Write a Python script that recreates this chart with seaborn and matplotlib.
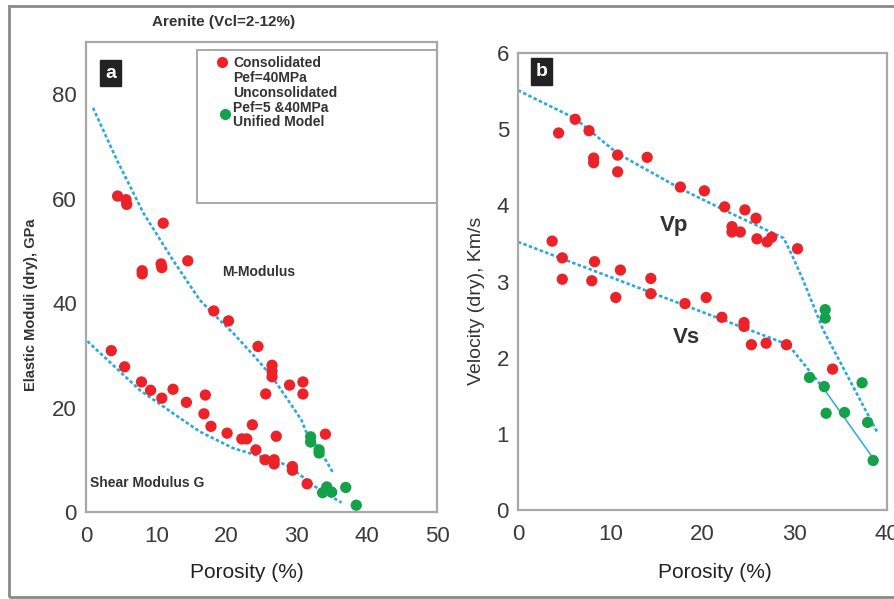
import numpy as np
import pandas as pd
import seaborn as sns
import matplotlib
matplotlib.use("Agg")
import matplotlib.pyplot as plt
from matplotlib.patches import Rectangle
from matplotlib.lines import Line2D
from matplotlib.ticker import MultipleLocator

# ---------------- data: panel a ----------------
a_M_por = [4.5, 5.7, 5.8, 11.0, 8.0, 8.0, 10.7, 10.8, 14.5, 18.2, 20.3, 24.5, 26.5, 26.5, 26.5,
           29.0, 30.9, 30.9, 25.6, 34.1]
a_M_val = [60.5, 59.8, 58.9, 55.3, 46.2, 45.6, 47.5, 46.8, 48.1, 38.5, 36.6, 31.7, 28.1, 27.0, 25.9,
           24.3, 24.9, 22.6, 22.6, 14.9]
a_G_por = [3.6, 5.5, 7.9, 9.2, 10.8, 12.4, 14.3, 17.0, 16.8, 17.8, 20.1, 22.2, 22.9, 23.7, 24.2,
           25.5, 26.8, 26.8, 27.1, 29.4, 29.4, 31.5]
a_G_val = [30.9, 27.8, 24.9, 23.3, 21.8, 23.5, 21.0, 22.4, 18.8, 16.4, 15.1, 14.0, 14.0, 16.7, 11.9,
           10.0, 10.0, 9.2, 14.5, 8.7, 8.0, 5.4]
a_U_por = [32.0, 32.0, 33.2, 33.2, 33.7, 34.3, 35.0, 37.0, 38.5]
a_U_val = [14.4, 13.4, 11.9, 11.3, 3.7, 4.8, 3.8, 4.7, 1.3]

model_M_por = [1.0, 4.4, 8.2, 12.4, 16.2, 18.1, 21.0, 24.0, 26.5, 29.1, 30.7, 31.3, 33.3, 35.2]
model_M_val = [77.4, 67.4, 57.2, 48.2, 40.6, 38.0, 34.2, 29.8, 25.9, 20.8, 17.6, 15.5, 11.9, 7.5]
model_G_por = [0.2, 7.7, 12.4, 16.2, 21.0, 25.7, 28.6, 30.5, 33.3, 36.4]
model_G_val = [32.7, 23.3, 18.9, 15.4, 12.2, 10.3, 9.0, 7.1, 4.2, 1.8]

# ---------------- data: panel b ----------------
b_Vp_por = [4.4, 6.2, 7.7, 8.2, 8.2, 10.8, 10.8, 14.0, 17.6, 20.2, 22.4, 24.6, 25.8, 23.2, 23.2,
            24.1, 25.9, 27.0, 27.5, 30.3]
b_Vp_val = [4.95, 5.13, 4.98, 4.62, 4.56, 4.66, 4.44, 4.63, 4.24, 4.19, 3.98, 3.94, 3.83, 3.72, 3.65,
            3.65, 3.56, 3.52, 3.58, 3.43]
b_Vs_por = [3.7, 4.8, 4.8, 8.3, 8.0, 11.1, 10.6, 14.4, 14.4, 18.1, 20.4, 22.1, 24.5, 24.5, 25.3,
            26.9, 29.1, 34.1]
b_Vs_val = [3.53, 3.31, 3.03, 3.26, 3.01, 3.15, 2.79, 3.04, 2.84, 2.71, 2.79, 2.53, 2.46, 2.41, 2.17,
            2.19, 2.17, 1.85]
b_U_por = [33.3, 33.3, 31.6, 33.2, 33.4, 35.4, 37.3, 37.9, 38.5]
b_U_val = [2.63, 2.52, 1.74, 1.62, 1.27, 1.28, 1.67, 1.15, 0.65]

model_Vp_por = [0.0, 6.2, 10.8, 17.6, 23.0, 28.8, 29.8, 30.9, 33.1, 38.9]
model_Vp_val = [5.51, 5.14, 4.68, 4.22, 3.90, 3.57, 3.32, 3.02, 2.36, 1.03]
model_Vs_por = [0.0, 29.3, 33.1]
model_Vs_val = [3.52, 2.17, 1.60]
model_Vs2_por = [33.1, 38.5]
model_Vs2_val = [1.60, 0.68]

# ---------------- style ----------------
sns.set_theme(style="white")
plt.rcParams['font.family'] = ['Liberation Sans', 'DejaVu Sans']

RED = "#ec2229"
GREEN = "#15a04a"
CYAN = "#2aa8e2"
SPINE = "#a8a8a8"
TXT = "#333333"
DOT = (0, (1.3, 0.9))

fig = plt.figure(figsize=(8.94, 5.99), dpi=100)

# outer frame
fig.add_artist(Rectangle((9 / 894, 1 - 597 / 599), 1.2, (597 - 6) / 599, transform=fig.transFigure,
                         fill=False, edgecolor="#8a8a8a", linewidth=2.0))

axA = fig.add_axes([86 / 894, 1 - 512 / 599, 351 / 894, 470 / 599])
axB = fig.add_axes([518 / 894, 1 - 510 / 599, 369 / 894, 457 / 599])

MS = 66

def style_axes(ax):
    for sp in ax.spines.values():
        sp.set_visible(True)
        sp.set_color(SPINE)
        sp.set_linewidth(1.6)
    ax.tick_params(axis="both", which="both", direction="out", length=5, width=1.3,
                   color=SPINE, labelsize=16, labelcolor="#3a3a3a")
    ax.tick_params(axis="y", pad=1.5)
    ax.tick_params(axis="x", pad=5)
    ax.set_xlabel("")
    ax.set_ylabel("")

# ---------------- panel a ----------------
sns.lineplot(x=model_M_por, y=model_M_val, ax=axA, color=CYAN, lw=1.9, linestyle=DOT, sort=False, estimator=None)
sns.lineplot(x=model_G_por, y=model_G_val, ax=axA, color=CYAN, lw=1.9, linestyle=DOT, sort=False, estimator=None)
sns.scatterplot(x=a_M_por, y=a_M_val, ax=axA, color=RED, s=MS, edgecolor="none", zorder=3)
sns.scatterplot(x=a_G_por, y=a_G_val, ax=axA, color=RED, s=MS, edgecolor="none", zorder=3)
sns.scatterplot(x=a_U_por, y=a_U_val, ax=axA, color=GREEN, s=MS, edgecolor="none", zorder=3)
axA.set_xlim(0, 50)
axA.set_ylim(0, 90)
axA.set_xticks([0, 10, 20, 30, 40, 50])
axA.set_yticks([0, 20, 40, 60, 80])
style_axes(axA)

axA.text(19.4, 45.9, "M-Modulus", fontsize=10, fontweight="bold", color=TXT, va="center", ha="left")
axA.text(0.5, 5.5, "Shear Modulus G", fontsize=10, fontweight="bold", color=TXT, va="center", ha="left")
axA.text(0.07, 0.934, "a", transform=axA.transAxes, fontsize=14, fontweight="bold", color="white",
         ha="center", va="center",
         bbox=dict(boxstyle="square,pad=0.25", facecolor="#222222", edgecolor="#222222"))

# legend box
axA.add_patch(Rectangle((0.316, 0.657), 0.684, 0.983 - 0.657, transform=axA.transAxes, fill=False,
                        edgecolor=SPINE, linewidth=1.4, zorder=4))
leg_lines = ["Consolidated", "Pef=40MPa", "Unconsolidated", "Pef=5 &40MPa", "Unified Model"]
leg_y = [0.955, 0.923, 0.891, 0.860, 0.829]
for s, yy in zip(leg_lines, leg_y):
    axA.text(0.419, yy, s, transform=axA.transAxes, fontsize=10, fontweight="bold", color=TXT,
             va="center", ha="left")
axA.add_line(Line2D([0.387], [0.957], transform=axA.transAxes, marker="o", ms=8, color=RED, mec="none"))
axA.add_line(Line2D([0.396], [0.847], transform=axA.transAxes, marker="o", ms=8, color=GREEN, mec="none"))

# ---------------- panel b ----------------
sns.lineplot(x=model_Vp_por, y=model_Vp_val, ax=axB, color=CYAN, lw=1.9, linestyle=DOT, sort=False, estimator=None)
sns.lineplot(x=model_Vs_por, y=model_Vs_val, ax=axB, color=CYAN, lw=1.9, linestyle=DOT, sort=False, estimator=None)
sns.lineplot(x=model_Vs2_por, y=model_Vs2_val, ax=axB, color=CYAN, lw=1.1, sort=False, estimator=None)
sns.scatterplot(x=b_Vp_por, y=b_Vp_val, ax=axB, color=RED, s=MS, edgecolor="none", zorder=3)
sns.scatterplot(x=b_Vs_por, y=b_Vs_val, ax=axB, color=RED, s=MS, edgecolor="none", zorder=3)
sns.scatterplot(x=b_U_por, y=b_U_val, ax=axB, color=GREEN, s=MS, edgecolor="none", zorder=3)
axB.set_xlim(0, 40)
axB.set_ylim(0, 6)
axB.set_xticks([0, 10, 20, 30, 40])
axB.xaxis.set_minor_locator(MultipleLocator(5))
axB.set_yticks([0, 1, 2, 3, 4, 5, 6])
style_axes(axB)

axB.text(15.4, 3.74, "Vp", fontsize=16, fontweight="bold", color=TXT, va="center", ha="left")
axB.text(16.8, 2.27, "Vs", fontsize=16, fontweight="bold", color=TXT, va="center", ha="left")
axB.text(0.064, 0.96, "b", transform=axB.transAxes, fontsize=14, fontweight="bold", color="white",
         ha="center", va="center",
         bbox=dict(boxstyle="square,pad=0.25", facecolor="#222222", edgecolor="#222222"))

# ---------------- labels ----------------
fig.text(224 / 894, 1 - 22 / 599, "Arenite (Vcl=2-12%)", fontsize=11, fontweight="bold", color=TXT,
         ha="center", va="center")
fig.text(31 / 894, 1 - 305 / 599, "Elastic Moduli (dry), GPa", fontsize=10.5, fontweight="bold", color=TXT,
         rotation=90, ha="center", va="center")
fig.text(477 / 894, 1 - 301 / 599, "Velocity (dry), Km/s", fontsize=14, color=TXT,
         rotation=90, ha="center", va="center")
fig.text(247 / 894, 1 - 573 / 599, "Porosity (%)", fontsize=15, color="#222222", ha="center", va="center")
fig.text(715 / 894, 1 - 573 / 599, "Porosity (%)", fontsize=15, color="#222222", ha="center", va="center")

fig.savefig("out.png", dpi=100)
